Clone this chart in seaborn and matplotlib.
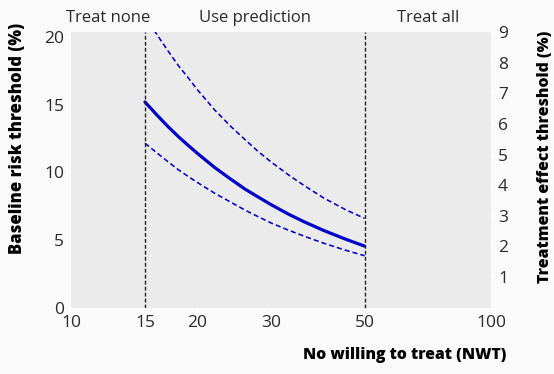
import numpy as np
import pandas as pd
import matplotlib
matplotlib.use("Agg")
import matplotlib.pyplot as plt
import seaborn as sns

# Data
nwt = [15, 16, 17, 18, 19, 20, 22, 24, 26, 28, 30, 33, 36, 40, 45, 50]
risk_mid = [15.2, 14.25, 13.4, 12.65, 12.0, 11.4, 10.35, 9.5, 8.75, 8.15, 7.6, 6.9, 6.33, 5.7, 5.07, 4.55]
risk_upper = [21.5, 20.2, 19.0, 17.9, 17.0, 16.1, 14.6, 13.4, 12.4, 11.5, 10.75, 9.8, 9.0, 8.1, 7.25, 6.6]
risk_lower = [12.15, 11.45, 10.8, 10.2, 9.7, 9.25, 8.45, 7.8, 7.2, 6.7, 6.25, 5.72, 5.27, 4.76, 4.25, 3.84]
x_ticks = [10, 15, 20, 30, 50, 100]
left_ticks = [0, 5, 10, 15, 20]
right_ticks = [1, 2, 3, 4, 5, 6, 7, 8, 9]
region_labels = ["Treat none", "Use prediction", "Treat all"]
region_centres = [12.25, 27.4, 70.7]
cutoffs = [15, 50]

df = pd.DataFrame({"nwt": nwt, "mid": risk_mid, "upper": risk_upper, "lower": risk_lower})

sns.set_theme(style="white")
plt.rcParams["font.family"] = ["Open Sans", "DejaVu Sans"]

bg = "#fafafa"
W, H = 554, 374
fig = plt.figure(figsize=(W / 100, H / 100), dpi=100, facecolor=bg)
ax = fig.add_axes([71 / W, 1 - 307.7 / H, (491 - 71) / W, (307.7 - 32) / H])
ax.set_facecolor("#ebebeb")

blue = "#0000c8"
sns.lineplot(data=df, x="nwt", y="mid", ax=ax, color=blue, linewidth=2.3)
sns.lineplot(data=df, x="nwt", y="upper", ax=ax, color=blue, linewidth=1.15, linestyle=(0, (3.2, 1.9)))
sns.lineplot(data=df, x="nwt", y="lower", ax=ax, color=blue, linewidth=1.15, linestyle=(0, (3.2, 1.9)))
for c in cutoffs:
    ax.axvline(c, color="#222222", linewidth=1.0, linestyle=(0, (2.8, 1.5)))

ax.set_xscale("log")
ax.set_xlim(10, 100)
ax.set_ylim(0, 20.37)
ax.set_xticks(x_ticks)
ax.set_xticklabels([str(t) for t in x_ticks])
ax.xaxis.set_minor_locator(matplotlib.ticker.NullLocator())
ax.set_yticks(left_ticks)
for s in ax.spines.values():
    s.set_visible(False)
ax.tick_params(axis="both", which="major", length=3, width=1.2, color="white",
               labelsize=12.5, labelcolor="#2a2a2a", pad=2, left=True, bottom=True)
ax.set_xlabel("")
ax.set_ylabel("")

ax2 = ax.twinx()
ax2.set_ylim(0, 9)
ax2.set_yticks(right_ticks)
for s in ax2.spines.values():
    s.set_visible(False)
ax2.tick_params(axis="y", length=3, width=1.2, color="white", labelsize=12.5,
                labelcolor="#2a2a2a", pad=2, right=True)

for lab, xc in zip(region_labels, region_centres):
    ax.text(xc, 1.02, lab, transform=ax.get_xaxis_transform(), ha="center", va="bottom",
            fontsize=12, color="#2a2a2a")

fig.text(506 / W, 1 - 355 / H, "No willing to treat (NWT)", ha="right", va="center",
         fontsize=11.3, fontweight="heavy", color="#000000")
fig.text(18 / W, 1 - 138 / H, "Baseline risk threshold (%)", ha="center", va="center",
         rotation=90, fontsize=12, fontweight="heavy", color="#000000")
fig.text(545 / W, 1 - 157 / H, "Treatment effect threshold (%)", ha="center", va="center",
         rotation=90, fontsize=11.4, fontweight="heavy", color="#000000")

fig.savefig("out.png", dpi=100, facecolor=bg)
